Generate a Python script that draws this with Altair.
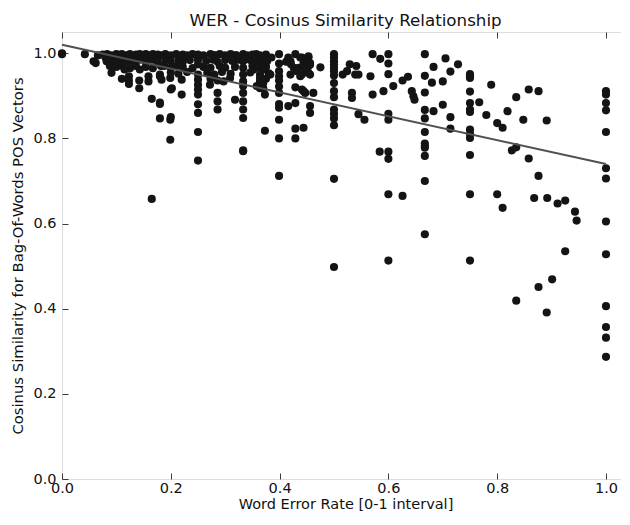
import altair as alt
import pandas as pd

# ---------------- data ----------------
# dense band, WER < 0.19
wer_a = [0.0, 0.0, 0.042, 0.058, 0.062, 0.066, 0.075, 0.08, 0.083, 0.09, 0.1, 0.105, 0.11,
         0.118, 0.125, 0.13, 0.136, 0.143, 0.15, 0.154, 0.16, 0.167, 0.17, 0.176, 0.182]
cos_a = [1.0, 0.998, 0.998, 0.981, 0.977, 0.995, 0.997, 0.99, 0.998, 0.995, 0.998, 0.99, 0.998,
         0.995, 0.998, 0.99, 0.997, 0.998, 0.99, 0.998, 0.995, 0.998, 0.99, 0.997, 0.995]

wer_a2 = [0.09, 0.1, 0.111, 0.12, 0.125, 0.133, 0.143, 0.154, 0.167, 0.176,
          0.082, 0.088, 0.091, 0.1, 0.111, 0.115, 0.125, 0.136, 0.143, 0.154, 0.167, 0.182]
cos_a2 = [0.985, 0.98, 0.985, 0.98, 0.985, 0.98, 0.985, 0.98, 0.985, 0.98,
          0.981, 0.97, 0.954, 0.968, 0.97, 0.962, 0.965, 0.97, 0.962, 0.968, 0.965, 0.97]

wer_a3 = [0.11, 0.123, 0.123, 0.123, 0.142, 0.142, 0.159, 0.159, 0.18, 0.183, 0.18,
          0.165, 0.18, 0.18, 0.199, 0.199, 0.165]
cos_a3 = [0.94, 0.946, 0.936, 0.928, 0.936, 0.918, 0.946, 0.934, 0.946, 0.938, 0.95,
          0.893, 0.881, 0.847, 0.844, 0.797, 0.658]

# dense band, 0.18 <= WER < 0.39
wer_b1 = [0.19, 0.2, 0.21, 0.222, 0.23, 0.24, 0.25, 0.26, 0.273, 0.28, 0.29, 0.3, 0.31, 0.32,
          0.333, 0.34, 0.35, 0.357, 0.364, 0.375, 0.385]
cos_b1 = [0.998, 0.995, 0.998, 0.997, 0.995, 0.998, 0.997, 0.995, 0.998, 0.996, 0.998, 0.995,
          0.998, 0.996, 0.998, 0.995, 0.997, 0.998, 0.995, 0.997, 0.99]

wer_b2 = [0.19, 0.2, 0.214, 0.222, 0.235, 0.25, 0.265, 0.278, 0.286, 0.3, 0.313, 0.325, 0.333,
          0.346, 0.357, 0.37]
cos_b2 = [0.984, 0.982, 0.985, 0.98, 0.984, 0.985, 0.982, 0.985, 0.98, 0.984, 0.982, 0.985,
          0.981, 0.984, 0.982, 0.985]

wer_b3 = [0.188, 0.2, 0.21, 0.222, 0.24, 0.25, 0.26, 0.273, 0.29, 0.3, 0.318, 0.333, 0.35,
          0.364, 0.375]
cos_b3 = [0.97, 0.966, 0.97, 0.968, 0.965, 0.974, 0.968, 0.966, 0.97, 0.966, 0.968, 0.966,
          0.97, 0.966, 0.968]

wer_b4 = [0.2, 0.214, 0.23, 0.25, 0.267, 0.28, 0.294, 0.31, 0.333, 0.346, 0.364, 0.38]
cos_b4 = [0.955, 0.952, 0.956, 0.95, 0.954, 0.95, 0.956, 0.952, 0.95, 0.955, 0.95, 0.953]

wer_b5 = [0.199, 0.22, 0.25, 0.273, 0.286, 0.309, 0.333, 0.364, 0.375, 0.2, 0.202, 0.22,
          0.272, 0.297, 0.37]
cos_b5 = [0.942, 0.938, 0.938, 0.94, 0.936, 0.942, 0.934, 0.934, 0.94, 0.915, 0.918, 0.903,
          0.926, 0.934, 0.918]

wer_b6 = [0.25, 0.25, 0.25, 0.25, 0.25, 0.25, 0.25, 0.333, 0.333, 0.333, 0.333, 0.333, 0.333,
          0.333, 0.286, 0.286, 0.286, 0.318, 0.364, 0.2, 0.18]
cos_b6 = [0.926, 0.915, 0.903, 0.88, 0.86, 0.815, 0.748, 0.923, 0.907, 0.887, 0.868, 0.848,
          0.772, 0.77, 0.907, 0.887, 0.868, 0.891, 0.918, 0.85, 0.884]

# 0.35 <= WER < 0.48
wer_c1 = [0.355, 0.37, 0.377, 0.364, 0.352, 0.37, 0.383, 0.364, 0.37, 0.358, 0.373, 0.373]
cos_c1 = [0.993, 0.993, 0.981, 0.973, 0.962, 0.962, 0.95, 0.942, 0.93, 0.923, 0.903, 0.818]

wer_c3 = [0.416, 0.429, 0.412, 0.421, 0.426, 0.441, 0.453, 0.435, 0.447, 0.453, 0.441, 0.45,
          0.456, 0.453, 0.42, 0.438, 0.444, 0.453, 0.456, 0.447, 0.456, 0.432, 0.42, 0.438]
cos_c3 = [0.99, 0.998, 0.98, 0.974, 0.966, 0.99, 0.99, 0.966, 0.966, 0.954, 0.95, 0.962,
          0.977, 0.97, 0.981, 0.99, 0.977, 0.993, 0.973, 0.966, 0.95, 0.958, 0.95, 0.946]

wer_c4 = [0.416, 0.429, 0.429, 0.441, 0.447, 0.462, 0.456, 0.456, 0.429, 0.444, 0.429, 0.475, 0.444]
cos_c4 = [0.876, 0.883, 0.92, 0.915, 0.907, 0.907, 0.876, 0.86, 0.823, 0.825, 0.80, 0.967, 0.911]

# 0.5 < WER < 0.6
wer_d = [0.516, 0.524, 0.529, 0.541, 0.539, 0.545, 0.533, 0.533, 0.545, 0.556, 0.571, 0.567,
         0.571, 0.585, 0.591, 0.584]
cos_d = [0.95, 0.958, 0.974, 0.97, 0.95, 0.95, 0.907, 0.895, 0.857, 0.844, 0.998, 0.946,
         0.903, 0.987, 0.911, 0.769]

# 0.6 < WER < 0.66
wer_e = [0.609, 0.626, 0.636, 0.643, 0.646, 0.648, 0.626]
cos_e = [0.923, 0.936, 0.945, 0.911, 0.899, 0.891, 0.665]

# 0.67 < WER < 0.74
wer_f = [0.683, 0.68, 0.683, 0.70, 0.705, 0.70, 0.714, 0.714, 0.714, 0.728]
cos_f = [0.968, 0.931, 0.864, 0.934, 0.988, 0.879, 0.957, 0.85, 0.823, 0.974]

# 0.76 < WER < 0.95
wer_g = [0.767, 0.78, 0.789, 0.80, 0.81, 0.819, 0.827, 0.835, 0.835, 0.848, 0.858, 0.858, 0.876,
         0.876, 0.891, 0.80, 0.81, 0.868, 0.892, 0.911, 0.925, 0.943, 0.946, 0.925, 0.901, 0.876,
         0.835, 0.891]
cos_g = [0.885, 0.855, 0.926, 0.836, 0.825, 0.864, 0.772, 0.779, 0.897, 0.844, 0.915, 0.753, 0.911,
         0.712, 0.842, 0.669, 0.637, 0.66, 0.66, 0.647, 0.654, 0.628, 0.607, 0.535, 0.469, 0.451,
         0.419, 0.391]

# vertical columns at common WER values
column_wer = [0.399, 0.5, 0.6, 0.667, 0.75, 1.0]
column_cos = [
    [0.998, 0.976, 0.958, 0.946, 0.936, 0.922, 0.907, 0.881, 0.872, 0.844, 0.80, 0.712],
    [0.998, 0.99, 0.981, 0.974, 0.966, 0.958, 0.948, 0.93, 0.911, 0.897, 0.868, 0.858, 0.847,
     0.831, 0.705, 0.498],
    [0.998, 0.976, 0.951, 0.858, 0.844, 0.769, 0.752, 0.669, 0.513],
    [0.998, 0.947, 0.908, 0.867, 0.847, 0.815, 0.788, 0.782, 0.778, 0.759, 0.70, 0.575],
    [0.951, 0.946, 0.942, 0.91, 0.883, 0.868, 0.862, 0.821, 0.811, 0.801, 0.761, 0.669, 0.513],
    [0.911, 0.903, 0.883, 0.866, 0.815, 0.73, 0.706, 0.605, 0.528, 0.406, 0.357, 0.332, 0.287],
]

# regression line end points
fit_wer = [0.0, 1.0]
fit_cos = [1.02, 0.74]

x_ticks = [0.0, 0.2, 0.4, 0.6, 0.8, 1.0]
y_ticks = [0.0, 0.2, 0.4, 0.6, 0.8, 1.0]
x_domain = [0.0, 1.0423]
y_domain = [0.0, 1.05]

# ---------------- build tables ----------------
all_wer = (wer_a + wer_a2 + wer_a3 + wer_b1 + wer_b2 + wer_b3 + wer_b4 + wer_b5 + wer_b6
           + wer_c1 + wer_c3 + wer_c4 + wer_d + wer_e + wer_f + wer_g)
all_cos = (cos_a + cos_a2 + cos_a3 + cos_b1 + cos_b2 + cos_b3 + cos_b4 + cos_b5 + cos_b6
           + cos_c1 + cos_c3 + cos_c4 + cos_d + cos_e + cos_f + cos_g)
for cx, cys in zip(column_wer, column_cos):
    all_wer += [cx] * len(cys)
    all_cos += list(cys)

df = pd.DataFrame({"wer": all_wer, "cos": all_cos})
fit = pd.DataFrame({"wer": fit_wer, "cos": fit_cos})

FONT = "DejaVu Sans"
FRAME = "#3a3a3a"
TEXT = "#111111"

xs = alt.Scale(domain=x_domain, nice=False, zero=False)
ys = alt.Scale(domain=y_domain, nice=False, zero=False)

x_main = alt.Axis(orient="bottom", values=x_ticks, format=".1f", offset=-6, tickSize=6,
                  tickColor=FRAME, tickWidth=1, domain=False, grid=False,
                  labelFont=FONT, labelFontSize=14.5, labelColor=TEXT, labelPadding=2,
                  labelFlush=False, labelOverlap=False,
                  title="Word Error Rate [0-1 interval]", titleFont=FONT, titleFontSize=14.5,
                  titleFontWeight="normal", titleColor=TEXT, titlePadding=3)
y_main = alt.Axis(orient="left", values=y_ticks, format=".1f", offset=-6, tickSize=6,
                  tickColor=FRAME, tickWidth=1, domain=False, grid=False,
                  labelFont=FONT, labelFontSize=14.5, labelColor=TEXT, labelPadding=6,
                  labelFlush=False, labelOverlap=False,
                  title="Cosinus Similarity for Bag-Of-Words POS Vectors", titleFont=FONT,
                  titleFontSize=14.8, titleFontWeight="normal", titleColor=TEXT, titlePadding=7)
x_top = alt.Axis(orient="top", values=x_ticks, offset=-6, tickSize=6, tickColor=FRAME,
                 tickWidth=1, domain=False, grid=False, labels=False, title=None)
y_right = alt.Axis(orient="right", values=y_ticks, offset=-6, tickSize=6, tickColor=FRAME,
                   tickWidth=1, domain=False, grid=False, labels=False, title=None)

points = alt.Chart(df).mark_circle(size=66, color="#141414", opacity=1).encode(
    x=alt.X("wer:Q", scale=xs, axis=x_main),
    y=alt.Y("cos:Q", scale=ys, axis=y_main),
)
line = alt.Chart(fit).mark_line(color="#505050", strokeWidth=2).encode(
    x=alt.X("wer:Q", scale=xs, axis=x_top),
    y=alt.Y("cos:Q", scale=ys, axis=y_right),
)

chart = alt.layer(points, line).resolve_axis(x="independent", y="independent").properties(
    width=567,
    height=447,
    title=alt.Title(text="WER - Cosinus Similarity Relationship", font=FONT, fontSize=16.7,
                    fontWeight="normal", color=TEXT, offset=2, anchor="middle"),
    autosize=alt.AutoSizeParams(type="none"),
    padding={"left": 54, "top": 24, "right": -8, "bottom": 35},
).configure_view(stroke=FRAME, strokeWidth=1.5).configure(background="white")

chart.save("out.html", embed_options={"renderer": "svg", "actions": False})
